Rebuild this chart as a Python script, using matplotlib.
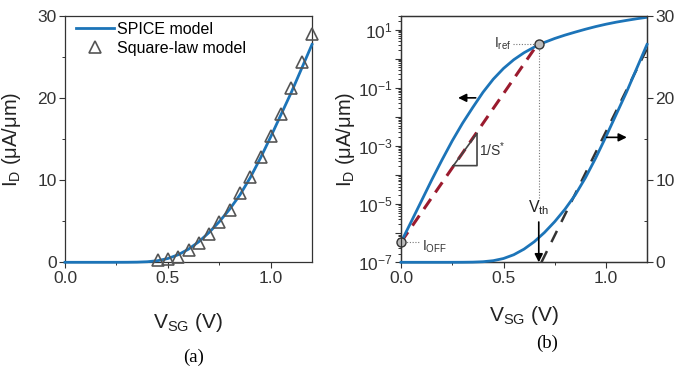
import numpy as np
import matplotlib
matplotlib.use("Agg")
import matplotlib.pyplot as plt
from matplotlib.ticker import LogLocator, FixedLocator, FuncFormatter, NullFormatter, MultipleLocator

plt.rcParams.update({
    "font.family": ["Liberation Sans", "DejaVu Sans"],
    "mathtext.fontset": "custom",
    "mathtext.rm": "Liberation Sans",
    "mathtext.it": "Liberation Sans:italic",
    "mathtext.bf": "Liberation Sans:bold",
    "mathtext.default": "regular",
})

# ---- data ----
v_sg = [0.00, 0.05, 0.10, 0.15, 0.20, 0.25, 0.30, 0.35, 0.40, 0.45, 0.50, 0.55,
        0.60, 0.65, 0.70, 0.75, 0.80, 0.85, 0.90, 0.95, 1.00, 1.05, 1.10, 1.15, 1.20]
i_d_spice = [4.9e-7, 2.5e-6, 1.3e-5, 6.8e-5, 3.3e-4, 1.5e-3, 6.0e-3, 2.1e-2, 7.0e-2,
             0.197, 0.462, 0.92, 1.6, 2.5, 3.63, 4.95, 6.46, 8.2, 10.3, 12.7, 15.3,
             18.0, 20.7, 23.6, 26.5]

v_sq = [0.45, 0.50, 0.55, 0.60, 0.65, 0.70, 0.75, 0.80, 0.85, 0.90, 0.95, 1.00,
        1.05, 1.10, 1.15, 1.20]
i_d_sq = [0.3, 0.4, 0.7, 1.5, 2.3, 3.4, 4.9, 6.4, 8.4, 10.4, 12.8, 15.4, 18.1,
          21.2, 24.4, 27.8]

v_ss_line = [0.0, 0.667]          # 1/S* line between I_OFF and I_ref
i_ss_line = [4.9e-7, 3.2]
v_ext = [0.685, 1.2]              # linear extrapolation for Vth
i_ext = [0.0, 26.0]
v_th = 0.672
i_off = 4.9e-7
i_ref = 3.2

blue = "#1c74b8"
tick_col = "#333333"

fig = plt.figure(figsize=(6.76, 3.67), dpi=100)
W, H = 676.0, 367.0
bottom = 1 - 262.3 / H
height = 246.6 / H
axa = fig.add_axes([65 / W, bottom, 247 / W, height])
axb = fig.add_axes([401 / W, bottom, 246 / W, height])

def style(ax):
    for s in ax.spines.values():
        s.set_color("#333333")
        s.set_linewidth(0.9)
    ax.tick_params(which="major", direction="out", length=4, width=0.8,
                   colors=tick_col, labelsize=12.5, pad=2)
    ax.tick_params(which="minor", direction="out", length=2.5, width=0.7,
                   colors=tick_col)

# ---- panel (a) ----
axa.plot(v_sg, i_d_spice, color=blue, lw=2.0, label="SPICE model", clip_on=False, zorder=3)
axa.plot(v_sq, i_d_sq, ls="none", marker="^", ms=8, mfc="none", mec="#555555",
         mew=1.2, label="Square-law model", clip_on=False, zorder=4)
axa.set_xlim(0, 1.2)
axa.set_ylim(0, 30)
axa.xaxis.set_major_locator(FixedLocator([0.0, 0.5, 1.0]))
axa.xaxis.set_minor_locator(FixedLocator([0.25, 0.75]))
axa.xaxis.set_major_formatter(FuncFormatter(lambda v, p: f"{v:.1f}"))
axa.yaxis.set_major_locator(MultipleLocator(10))
axa.yaxis.set_minor_locator(MultipleLocator(5))
style(axa)
axa.set_xlabel("V$_{SG}$ (V)", fontsize=15, color="#222222")
axa.set_ylabel("I$_D$ (μA/μm)", fontsize=14.5, color="#222222")
axa.xaxis.set_label_coords(0.5, (262.3 - 311) / 246.6)
axa.yaxis.set_label_coords((23 - 65) / 247, 0.5)
leg = axa.legend(loc="upper left", bbox_to_anchor=(0.045, 0.975), frameon=False,
                 fontsize=11.5, handlelength=2.4, handletextpad=0.15,
                 borderpad=0, borderaxespad=0, labelspacing=0.25)
fig.text(194 / W, 1 - 357 / H, "(a)", family="Liberation Serif", fontsize=13.5,
         ha="center", va="center")

# ---- panel (b) ----
axb.plot(v_ss_line, i_ss_line, color="#9b1b2e", lw=2.2, ls=(0, (4, 2.6)), zorder=2)
axb.plot(v_sg, i_d_spice, color=blue, lw=2.0, zorder=3)
axb.set_yscale("log")
axb.set_xlim(0, 1.2)
axb.set_ylim(1e-7, 30)
axb.xaxis.set_major_locator(FixedLocator([0.0, 0.5, 1.0]))
axb.xaxis.set_minor_locator(FixedLocator([0.25, 0.75]))
axb.xaxis.set_major_formatter(FuncFormatter(lambda v, p: f"{v:.1f}"))
axb.yaxis.set_major_locator(LogLocator(base=10, numticks=20))
axb.yaxis.set_minor_locator(LogLocator(base=10, subs=np.arange(2, 10), numticks=100))
axb.yaxis.set_minor_formatter(NullFormatter())

def logfmt(v, p):
    e = int(round(np.log10(v)))
    return f"$10^{{{e}}}$" if e % 2 != 0 else ""
axb.yaxis.set_major_formatter(FuncFormatter(logfmt))
style(axb)
axb.tick_params(axis="y", which="major", length=4)
axb.set_xlabel("V$_{SG}$ (V)", fontsize=15, color="#222222")
axb.set_ylabel("I$_D$ (μA/μm)", fontsize=14.5, color="#222222")
axb.xaxis.set_label_coords(0.5, (262.3 - 304) / 246.6)
axb.yaxis.set_label_coords((357 - 401) / 246, 0.5)

ax2 = axb.twinx()
ax2.plot(v_ext, i_ext, color="#333333", lw=1.8, ls=(0, (5, 4)), zorder=2)
ax2.plot(v_sg, i_d_spice, color=blue, lw=2.0, zorder=3, clip_on=False)
ax2.set_ylim(0, 30)
ax2.yaxis.set_major_locator(MultipleLocator(10))
ax2.yaxis.set_minor_locator(MultipleLocator(5))
style(ax2)
ax2.tick_params(axis="y", which="minor", direction="in")

# markers and annotations on the log axis
dot = dict(color="#777777", lw=0.8, ls=(0, (1, 1.5)))
axb.plot([v_th, v_th], [1.6e-5, i_ref], **dot, zorder=1)
axb.plot([0.545, v_th], [i_ref, i_ref], **dot, zorder=1)
axb.plot([0.0, 0.093], [i_off, i_off], **dot, zorder=1)
axb.plot([v_th], [i_ref], marker="o", ms=6.5, mfc="#bbbbbb", mec="#333333", mew=1.0,
         ls="none", zorder=5)
axb.plot([0.0], [i_off], marker="o", ms=6.5, mfc="#bbbbbb", mec="#333333", mew=1.0,
         ls="none", zorder=5, clip_on=False)
axb.text(0.54, i_ref, "I$_{ref}$", fontsize=10, ha="right", va="center", color="#333333")
axb.text(0.10, 3.4e-7, "I$_{OFF}$", fontsize=10, ha="left", va="center", color="#333333")

# slope triangle (axes fraction)
tri_x = [0.213, 0.309, 0.309, 0.213]
tri_y = [0.392, 0.523, 0.392, 0.392]
axb.plot(tri_x, tri_y, transform=axb.transAxes, color="#444444", lw=1.2)
axb.text(0.316, 0.455, "1/S$^{*}$", transform=axb.transAxes, fontsize=10,
         ha="left", va="center", color="#333333")

# direction arrows
axb.annotate("", xy=(0.265, 0.045), xytext=(0.378, 0.045),
             arrowprops=dict(arrowstyle="-|>", color="black", lw=1.2,
                             mutation_scale=12))
ax2.annotate("", xy=(1.115, 15.2), xytext=(0.99, 15.2),
             arrowprops=dict(arrowstyle="-|>", color="black", lw=1.2,
                             mutation_scale=12))
ax2.annotate("", xy=(v_th, 0.0), xytext=(v_th, 4.9),
             arrowprops=dict(arrowstyle="-|>", color="black", lw=1.2,
                             mutation_scale=12, shrinkA=0, shrinkB=0))
ax2.text(v_th, 6.6, "V$_{th}$", fontsize=11.5, ha="center", va="center", color="#222222")

fig.text(547 / W, 1 - 343 / H, "(b)", family="Liberation Serif", fontsize=13.5,
         ha="center", va="center")

fig.savefig("out.png", dpi=100)
